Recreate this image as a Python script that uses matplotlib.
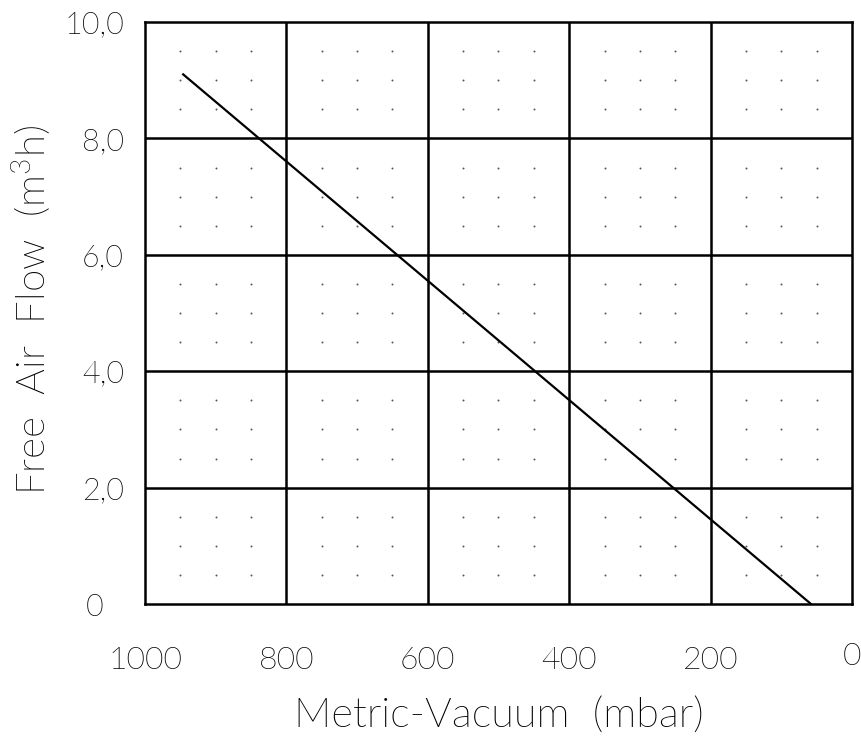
import matplotlib
matplotlib.use("Agg")
import matplotlib.pyplot as plt
from matplotlib import font_manager
from matplotlib.transforms import ScaledTranslation
import numpy as np

# Data
vacuum_mbar = [946, 58]
flow_m3h = [9.1, 0.0]
x_ticks = [1000, 800, 600, 400, 200, 0]
x_tick_labels = ["1000", "800", "600", "400", "200", "0"]
y_ticks = [0, 2, 4, 6, 8, 10]
y_tick_labels = ["0", "2,0", "4,0", "6,0", "8,0", "10,0"]
x_label = "Metric-Vacuum  (mbar)"
y_label = "Free  Air  Flow  (m$^3$h)"

# pick a light sans font if available
family, weight = 'DejaVu Sans', 'normal'
prefs = ['Lato', 'Roboto', 'Open Sans', 'Inter', 'Noto Sans', 'DejaVu Sans']
found = {}
for f in font_manager.fontManager.ttflist:
    w = f.weight if isinstance(f.weight, int) else {'light': 300, 'extra light': 200, 'ultralight': 200, 'thin': 100}.get(str(f.weight).lower(), 400)
    if f.name in prefs and 250 <= w <= 350 and f.style == 'normal':
        found[f.name] = w
for p in prefs:
    if p in found:
        family, weight = p, found[p]
        break

plt.rcParams['font.family'] = [family, 'DejaVu Sans']
plt.rcParams['font.weight'] = weight
plt.rcParams['mathtext.fontset'] = 'custom'
plt.rcParams['mathtext.rm'] = family
plt.rcParams['mathtext.default'] = 'regular'

fig = plt.figure(figsize=(8.62, 7.39), dpi=100)
ax = fig.add_axes([145/862, 1-604/739, (852-145)/862, (604-22)/739])

ax.set_xlim(1000, 0)
ax.set_ylim(0, 10)

# major grid
for xv in x_ticks[1:-1]:
    ax.axvline(xv, color='black', lw=1.8, zorder=1)
for yv in y_ticks[1:-1]:
    ax.axhline(yv, color='black', lw=1.8, zorder=1)

# dot grid
xs = [v for v in np.arange(50, 1000, 50) if v % 200 != 0]
ys = [v for v in np.arange(0.5, 10, 0.5) if abs(v % 2) > 1e-9]
XX, YY = np.meshgrid(xs, ys)
ax.scatter(XX.ravel(), YY.ravel(), s=2.0, color='#555555', zorder=1, linewidths=0)

ax.plot(vacuum_mbar, flow_m3h, color='black', lw=1.6, zorder=3)

for sp in ax.spines.values():
    sp.set_linewidth(1.8)

ax.set_xticks(x_ticks)
ax.set_xticklabels(x_tick_labels, fontsize=23, weight=weight)
ax.set_yticks(y_ticks)
ax.set_yticklabels(y_tick_labels, fontsize=22, weight=weight)
ax.tick_params(axis='x', length=0, pad=30)
ax.tick_params(axis='y', length=0, pad=15)

# small per-label offsets as in reference
for lab in ax.get_yticklabels():
    if lab.get_text() == "0":
        lab.set_transform(lab.get_transform() + ScaledTranslation(-0.21, 0, fig.dpi_scale_trans))
for lab in ax.get_xticklabels():
    if lab.get_text() == "0":
        lab.set_transform(lab.get_transform() + ScaledTranslation(0, 0.04, fig.dpi_scale_trans))

ax.set_xlabel(x_label, fontsize=30, labelpad=16, weight=weight)
ax.set_ylabel(y_label, fontsize=29, weight=weight)
ax.yaxis.set_label_coords(-0.13, 0.505)

fig.savefig("out.png", dpi=100)
